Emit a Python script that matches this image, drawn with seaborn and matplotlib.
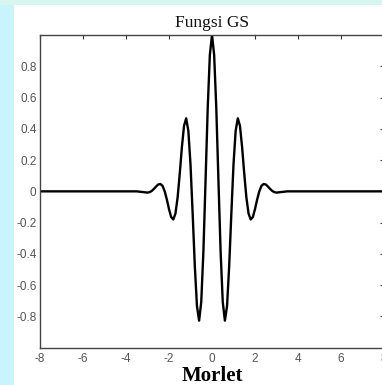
import matplotlib
matplotlib.use("Agg")
import matplotlib.pyplot as plt
import seaborn as sns
import pandas as pd
from matplotlib.patches import Rectangle

# values (Morlet wavelet curve)
x_vals = [-8.0, -3.5, -3.0, -2.9, -2.8, -2.7, -2.6, -2.5, -2.4, -2.3, -2.2, -2.1, -2.0,
          -1.9, -1.8, -1.7, -1.6, -1.5, -1.4, -1.3, -1.2, -1.1, -1.0, -0.9, -0.8,
          -0.7, -0.6, -0.5, -0.4, -0.3, -0.2, -0.1, 0.0, 0.1, 0.2, 0.3, 0.4, 0.5,
          0.6, 0.7, 0.8, 0.9, 1.0, 1.1, 1.2, 1.3, 1.4, 1.5, 1.6, 1.7, 1.8, 1.9,
          2.0, 2.1, 2.2, 2.3, 2.4, 2.5, 2.6, 2.7, 2.8, 2.9, 3.0, 3.5, 8.0]
y_vals = [0.0, 0.0, -0.008, -0.005, 0.003, 0.016, 0.031, 0.044, 0.047, 0.035, 0.0, -0.052, -0.114,
          -0.164, -0.180, -0.142, -0.040, 0.113, 0.283, 0.420, 0.467, 0.387, 0.172, -0.141, -0.475,
          -0.733, -0.827, -0.707, -0.384, 0.068, 0.530, 0.873, 1.0, 0.873, 0.530, 0.068, -0.384, -0.707,
          -0.827, -0.733, -0.475, -0.141, 0.172, 0.387, 0.467, 0.420, 0.283, 0.113, -0.040, -0.142, -0.180, -0.164,
          -0.114, -0.052, 0.0, 0.035, 0.047, 0.044, 0.031, 0.016, 0.003, -0.005, -0.008, 0.0, 0.0]
x_ticks = [-8, -6, -4, -2, 0, 2, 4, 6, 8]
y_ticks = [-0.8, -0.6, -0.4, -0.2, 0, 0.2, 0.4, 0.6, 0.8]
title = "Fungsi GS"
caption = "Morlet"

df = pd.DataFrame({"x": x_vals, "y": y_vals})

sns.set_style("white")
fig = plt.figure(figsize=(3.82, 3.85), dpi=100, facecolor="white")
# light cyan strip at left edge (watermark background)
fig.patches.append(Rectangle((0, 0), 14 / 382, 1, transform=fig.transFigure,
                             facecolor="#c9f4fb", edgecolor="none", zorder=-1))
fig.patches.append(Rectangle((0, 1 - 5 / 385), 1, 5 / 385, transform=fig.transFigure,
                             facecolor="#d6f6ee", edgecolor="none", zorder=-1))

ax = fig.add_axes([40 / 382, 37.3 / 385, 344 / 382, 312.7 / 385])
sns.lineplot(data=df, x="x", y="y", ax=ax, color="black", linewidth=1.7, sort=False)
ax.set_xlim(-8, 8)
ax.set_ylim(-1, 1)
ax.set_xticks(x_ticks)
ax.set_xticklabels([str(t) for t in x_ticks])
ax.set_yticks(y_ticks)
ax.set_yticklabels(["-0.8", "-0.6", "-0.4", "-0.2", "0", "0.2", "0.4", "0.6", "0.8"])
ax.set_xlabel("")
ax.set_ylabel("")
for s in ax.spines.values():
    s.set_color("#444444")
    s.set_linewidth(1.0)
ax.tick_params(direction="in", length=3, width=0.8, color="#333333",
               labelsize=8.5, labelcolor="#555555", top=True, right=True)
ax.tick_params(axis="x", pad=4)
ax.tick_params(axis="y", pad=2.5)
for lab in ax.get_xticklabels() + ax.get_yticklabels():
    lab.set_family("Liberation Sans")
ax.set_title(title, family="Liberation Serif", fontsize=12.5, pad=6, color="#111111")

fig.text(212 / 382, 1 - 376 / 385, caption, family="Liberation Serif", fontsize=15,
         fontweight="bold", ha="center", va="center", color="black")

fig.savefig("out.png", dpi=100, facecolor=fig.get_facecolor())
